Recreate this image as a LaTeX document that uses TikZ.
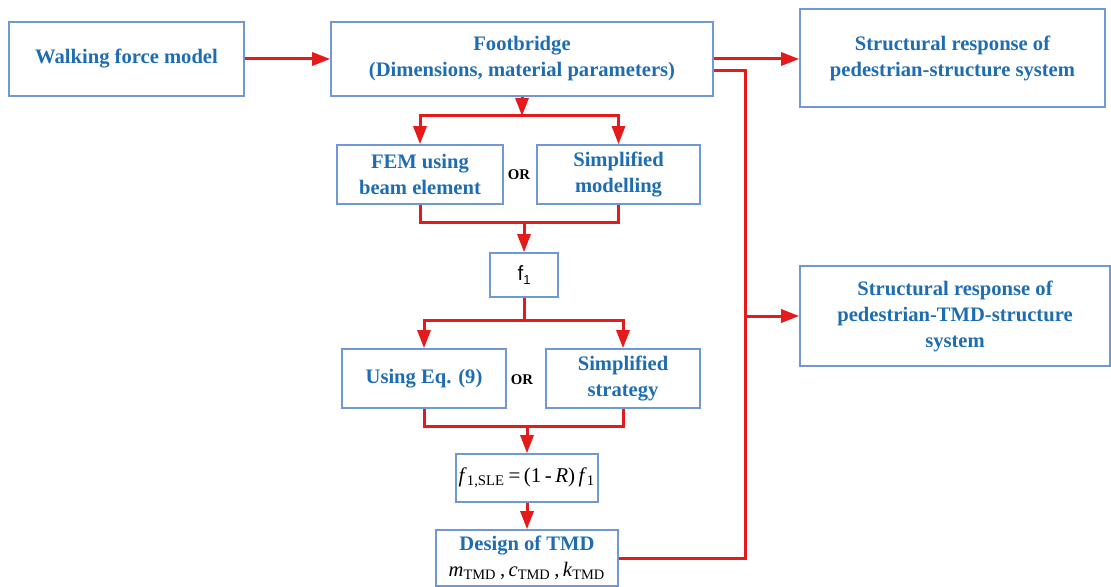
\documentclass[tikz,border=0pt]{standalone}
\usepackage{fontspec}
\setmainfont{Liberation Serif}
\setsansfont{Liberation Sans}
\definecolor{boxblue}{HTML}{6F98D4}
\definecolor{textblue}{HTML}{1E6DB2}
\definecolor{flowred}{HTML}{E51A1A}
\usetikzlibrary{arrows.meta,positioning,calc}
\tikzset{
  box/.style={draw=boxblue,line width=0.8pt,align=center,inner sep=0pt,
    font=\fontsize{10.3}{13}\selectfont\bfseries,text=textblue},
  flow/.style={draw=flowred,line width=1.5pt},
  arr/.style={flow,-{Triangle[length=9pt,width=6.5pt]}},
  ortext/.style={font=\fontsize{7.4}{9}\selectfont\bfseries}
}

\begin{document}
\begin{tikzpicture}[x=0.5pt,y=-0.5pt]
    \useasboundingbox (0,0) rectangle (1111,587);
    \node[box,minimum width=117.5pt,minimum height=37pt] (walk) at (126.5,59) {Walking force model};
    \node[box,minimum width=191pt,minimum height=37pt] (foot) at (522,59) {Footbridge\\(Dimensions, material parameters)};
    \node[box,minimum width=152.5pt,minimum height=49pt] (resp1) at (952.5,58) {Structural response of\\pedestrian-structure system};
    \node[box,minimum width=83pt,minimum height=29.5pt] (fem) at (420,174.5) {FEM using\\beam element};
    \node[box,minimum width=81.5pt,minimum height=29.5pt] (simpm) at (618.5,174.5) {Simplified\\modelling};
    \node[ortext] (or1) at (519,175) {OR};
    \node[box,minimum width=34pt,minimum height=22pt,font=\fontsize{10.3}{13}\sffamily,text=black] (f1) at (524,275) {f{\fontsize{6.5}{7}\selectfont\raisebox{-2.2pt}{1}}};
    \node[box,minimum width=82pt,minimum height=29.5pt] (useq) at (424,378.5) {Using Eq. (9)};
    \node[box,minimum width=77pt,minimum height=29.5pt] (simps) at (623,378.5) {Simplified\\strategy};
    \node[ortext] (or2) at (522,380) {OR};
    \node[box,minimum width=71pt,minimum height=24pt,font=\fontsize{10.5}{13}\selectfont,text=black] (sle) at (527,478)
        {\textit{f}\textsubscript{1,SLE}\,=\,(1\,-\,\textit{R})\,\textit{f}\textsubscript{1}};
    \node[box,minimum width=91pt,minimum height=28pt] (design) at (527,558)
        {Design of TMD\\{\normalfont\color{black}\textit{m}\textsubscript{TMD}\,,\,\textit{c}\textsubscript{TMD}\,,\,\textit{k}\textsubscript{TMD}}};
    \node[box,minimum width=155pt,minimum height=50pt] (resp2) at (955,316) {Structural response of\\pedestrian-TMD-structure\\system};

    \coordinate (sp1) at (522,116);
    \coordinate (jn1) at (524,223);
    \coordinate (sp2) at (524,320);
    \coordinate (jn2) at (527,426);
    \coordinate (bus) at (745,316);

    \draw[arr] (walk) -- (foot);
    \draw[arr] (foot.east) -- (foot.east -| resp1.west);
    \draw[flow] ([yshift=-6pt]foot.east) -| (bus) |- (design.east);
    \draw[arr] (bus) -- (resp2.west);
    \draw[arr] (foot.south) -- (sp1);
    \draw[arr] (sp1) -| (fem.north);
    \draw[arr] (sp1) -| (simpm.north);
    \draw[flow] (fem.south) |- (jn1) -| (simpm.south);
    \draw[arr] (jn1) -- (f1.north);
    \draw[flow] (f1.south) -- (sp2);
    \draw[arr] (sp2) -| (useq.north);
    \draw[arr] (sp2) -| (simps.north);
    \draw[flow] (useq.south) |- (jn2) -| (simps.south);
    \draw[arr] (jn2) -- (sle.north);
    \draw[arr] (sle) -- (design);
\end{tikzpicture}
\end{document}
